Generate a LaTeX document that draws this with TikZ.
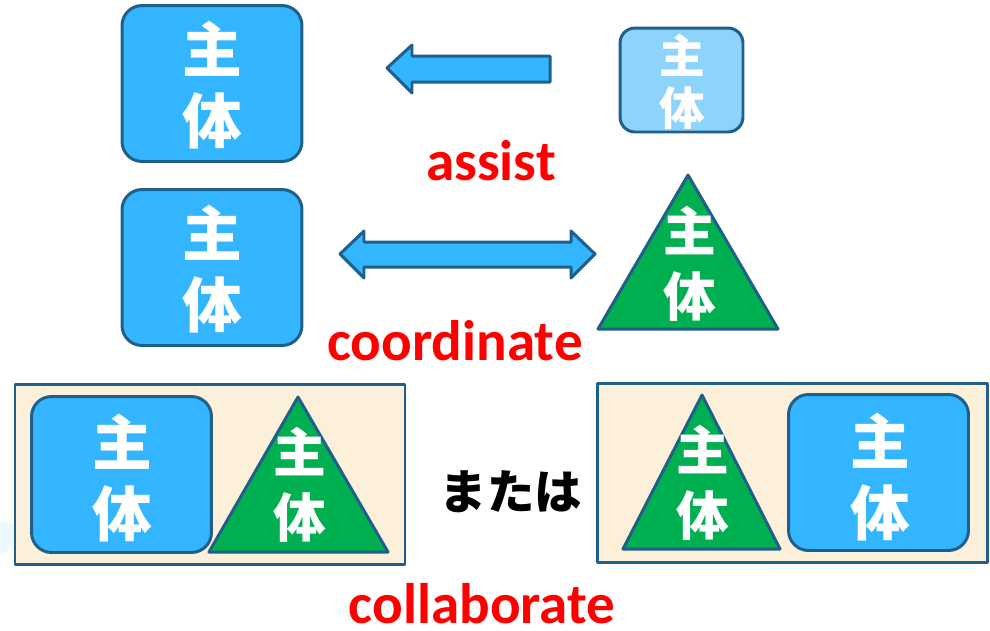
\documentclass[tikz,border=0pt]{standalone}
\usepackage{fontspec}
\setmainfont{Carlito}
\newfontfamily\jp{Noto Sans CJK JP}

\definecolor{boxblue}{HTML}{33B5FF}
\definecolor{paleblue}{HTML}{8DD3FB}
\definecolor{edgeblue}{HTML}{1F5F8A}
\definecolor{trigreen}{HTML}{00B050}
\definecolor{cream}{HTML}{FDF0DA}

\begin{document}
\begin{tikzpicture}[x=0.02cm, y=-0.02cm,
    agent/.style={draw=edgeblue, line width=1.7pt, fill=boxblue, rounded corners=0.4cm,
        minimum width=3.6cm, minimum height=3.12cm, inner sep=0pt},
    outline/.style={draw=edgeblue, line width=1.7pt, line join=round},
    kanji/.style={text=white, align=center, inner sep=0pt, font=\jp\bfseries\fontsize{34}{40}\selectfont},
    tkanji/.style={kanji, font=\jp\bfseries\fontsize{30}{37}\selectfont},
    word/.style={text=red, anchor=base, inner sep=0pt, font=\bfseries\fontsize{32.5}{36}\selectfont}]
    \useasboundingbox (0,0) rectangle (990,630);

    % faint shape at the left edge
    \fill[boxblue!12, opacity=0.7] (0,522) -- (32,527) -- (0,557) -- cycle;

    % assist
    \node[agent] (s1) at (212,83.5) {};
    \node[kanji] (k1) at (212,85) {主\\体};
    \node[agent, fill=paleblue, minimum width=2.46cm, minimum height=2.08cm, rounded corners=0.3cm] (h1) at (681.5,80) {};
    \node[kanji, font=\jp\bfseries\fontsize{26}{30}\selectfont] (kh) at (682,82) {主\\体};
    \draw[outline, fill=boxblue] (387,68) -- (412,45) -- (412,56) -- (550,56) -- (550,82) -- (412,82) -- (412,93) -- cycle;
    \node[word] (assist) at (491,180) {assist};

    % coordinate
    \node[agent] (s2) at (212,267.5) {};
    \node[kanji] (k2) at (212,269) {主\\体};
    \coordinate (t1a) at (688,175); \coordinate (t1b) at (598,329); \coordinate (t1c) at (778,329);
    \draw[outline, fill=trigreen] (t1a) -- (t1b) -- (t1c) -- cycle;
    \node[tkanji] (kt1) at (690,264) {主\\体};
    \draw[outline, fill=boxblue] (340,254) -- (364,231) -- (364,242) -- (571,242) -- (571,231) -- (595,254)
        -- (571,278) -- (571,267) -- (364,267) -- (364,278) -- cycle;
    \node[word] (coord) at (455,360) {coordinate};

    % collaborate
    \draw[outline, fill=cream] (15,384) rectangle (405,564);
    \node[agent] (s3) at (121.5,474.5) {};
    \node[kanji] (k3) at (122,478) {主\\体};
    \coordinate (t2a) at (298,397); \coordinate (t2b) at (209,552); \coordinate (t2c) at (388,552);
    \draw[outline, fill=trigreen] (t2a) -- (t2b) -- (t2c) -- cycle;
    \node[tkanji] (kt2) at (300,485) {主\\体};

    \draw[outline, fill=cream] (597,383) rectangle (987,562);
    \coordinate (t3a) at (702,395); \coordinate (t3b) at (623,549); \coordinate (t3c) at (780,549);
    \draw[outline, fill=trigreen] (t3a) -- (t3b) -- (t3c) -- cycle;
    \node[tkanji] (kt3) at (703,483) {主\\体};
    \node[agent] (s4) at (878.5,472.5) {};
    \node[kanji] (k4) at (880,477) {主\\体};

    \node[inner sep=0pt, font=\jp\bfseries\fontsize{27}{30}\selectfont] (or) at (511,492) {または};
    \node[word] (collab) at (482,623) {collaborate};
\end{tikzpicture}
\end{document}
